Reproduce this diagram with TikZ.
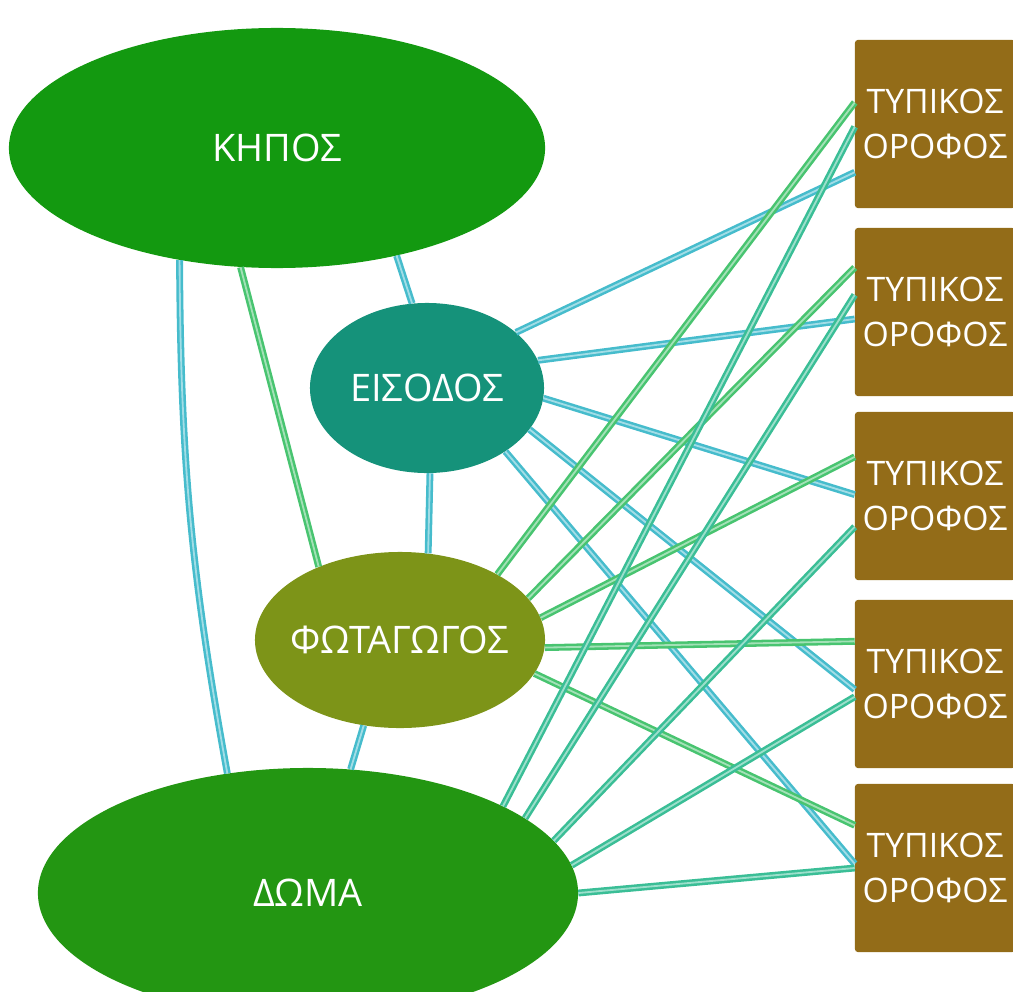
\documentclass[tikz,border=0pt]{standalone}
\usepackage{fontspec}
\setmainfont{Open Sans}
\usetikzlibrary{shapes.geometric}
\definecolor{kiposgreen}{RGB}{19,153,16}
\definecolor{eisteal}{RGB}{21,146,122}
\definecolor{fotolive}{RGB}{125,148,24}
\definecolor{domagreen}{RGB}{35,150,18}
\definecolor{floorbrown}{RGB}{147,108,24}
\definecolor{linkcyan}{RGB}{70,188,204}
\definecolor{linkgreen}{RGB}{72,196,112}
\definecolor{linkteal}{RGB}{58,190,150}
\tikzset{
  room/.style={ellipse, inner sep=0pt, text=white, font=\fontsize{27}{32}\selectfont},
  floorbox/.style={rectangle, rounded corners=2pt, fill=floorbrown, text=white,
    minimum width=4cm, minimum height=4.2cm, align=center, font=\fontsize{24}{32}\selectfont},
  link/.style={draw=#1, double=#1!50, double distance=1.3pt, line width=1.8pt}
}
\begin{document}
\begin{tikzpicture}[x=0.025cm, y=-0.025cm]
\useasboundingbox (0,0) rectangle (1013,992);
\node[room, fill=kiposgreen, minimum width=13.4cm, minimum height=6cm] (kipos) at (277,148) {ΚΗΠΟΣ};
\node[room, fill=eisteal, minimum width=5.85cm, minimum height=4.25cm] (eisodos) at (427,388) {ΕΙΣΟΔΟΣ};
\node[room, fill=fotolive, inner xsep=-0.2cm, minimum width=7.25cm, minimum height=4.4cm] (fotagogos) at (400,640) {ΦΩΤΑΓΩΓΟΣ};
\node[room, fill=domagreen, minimum width=13.5cm, minimum height=6.25cm] (doma) at (308,893) {ΔΩΜΑ};
\foreach \y [count=\i] in {124,312,496,684,868}
  \node[floorbox] (b\i) at (935,\y) {ΤΥΠΙΚΟΣ\\ΟΡΟΦΟΣ};

\draw[link=linkcyan] (kipos.229) to[bend right=5] (doma.124.5);
\draw[link=linkgreen] (kipos.253) -- (fotagogos.138);
\draw[link=linkcyan] (kipos.318) -- (eisodos.100);
\draw[link=linkcyan] (eisodos.272) -- (fotagogos.72);
\draw[link=linkcyan] (fotagogos.247) -- (doma.71);

\draw[link=linkcyan] (eisodos.32.8) -- (b1.211.5);
\draw[link=linkcyan] (eisodos.14.9) -- (b2.185.7);
\draw[link=linkcyan] (eisodos.-5.9) -- (b3.179.3);
\draw[link=linkcyan] (eisodos.-22.6) -- (b4.184.3);
\draw[link=linkcyan] (eisodos.-39.4) -- (b5.177.9);

\draw[link=linkgreen] (fotagogos.34) -- (b1.165.3);
\draw[link=linkgreen] (fotagogos.18.7) -- (b2.151.2);
\draw[link=linkgreen] (fotagogos.9) -- (b3.154.6);
\draw[link=linkgreen] (fotagogos.-3.9) -- (b4.152.3);
\draw[link=linkgreen] (fotagogos.-14.5) -- (b5.152.9);

\draw[link=linkteal] (doma.24.5) -- (b1.182.9);
\draw[link=linkteal] (doma.19.6) -- (b2.168);
\draw[link=linkteal] (doma.12.4) -- (b3.201.2);
\draw[link=linkteal] (doma.6.4) -- (b4.189.2);
\draw[link=linkteal] (doma.0.6) -- (b5.180);
\end{tikzpicture}
\end{document}
